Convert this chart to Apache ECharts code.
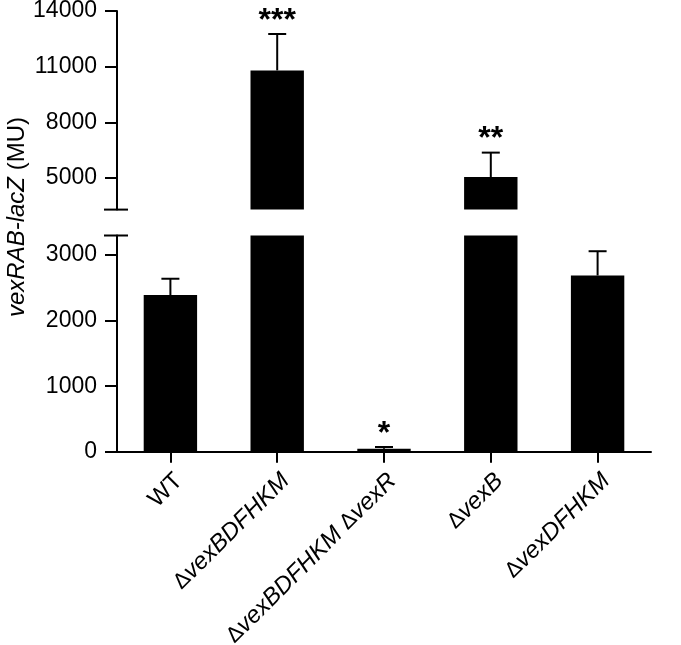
<!DOCTYPE html>
<html>
<head>
<meta charset="utf-8">
<script src="https://cdn.jsdelivr.net/npm/echarts@6/dist/echarts.min.js"></script>
<style>html,body{margin:0;padding:0;background:#fff}#c{width:681px;height:645px}</style>
</head>
<body>
<div id="c"></div>
<script>
const categories = ['WT', 'ΔvexBDFHKM', 'ΔvexBDFHKM ΔvexR', 'ΔvexB', 'ΔvexDFHKM'];
const means = [2390, 10800, 45, 5050, 2690];
const errors = [250, 1960, 27, 1320, 370];
const stars = ['', '***', '*', '**', ''];
const lowerTicks = [0, 1000, 2000, 3000];
const upperTicks = [5000, 8000, 11000, 14000];
const breakAt = 3300;
const yMax = 14000;

const FONT = 'Liberation Sans, Arial, Helvetica, sans-serif';
const chart = echarts.init(document.getElementById('c'), null, {renderer: 'canvas'});

function labelFmt(v) {
  if (v.indexOf('Δ') < 0) return '{n|' + v + '}';
  return v.split(' ').map(p => p.split('Δ').map((s, k) => k === 0 ? s : '{d|Δ}{i|' + s + '}').join('')).join('{n| }');
}

const upperData = means.map(v => v > breakAt ? v : '-');
const errData = means.map((m, i) => [i, m, m + errors[i], stars[i]]);
const errLower = errData.filter(d => d[1] <= breakAt);
const errUpper = errData.filter(d => d[1] > breakAt);

function renderErr(params, api) {
  const i = api.value(0);
  const p0 = api.coord([i, api.value(1)]);
  const p1 = api.coord([i, api.value(2)]);
  const d = (params.seriesIndex === 2 ? errLower : errUpper)[params.dataIndexInside];
  const children = [
    {type: 'line', shape: {x1: p0[0], y1: p0[1], x2: p1[0], y2: p1[1]}, style: {stroke: '#000', lineWidth: 2}},
    {type: 'line', shape: {x1: p1[0] - 9, y1: p1[1], x2: p1[0] + 9, y2: p1[1]}, style: {stroke: '#000', lineWidth: 2}}
  ];
  if (d && d[3]) {
    children.push({type: 'text', style: {text: d[3], x: p1[0], y: p1[1] - 13, align: 'center', verticalAlign: 'middle', font: 'bold 32px ' + FONT, fill: '#000'}});
  }
  return {type: 'group', children};
}

const yCommon = {
  type: 'value',
  axisLine: {show: true, lineStyle: {color: '#000', width: 2}},
  axisTick: {show: true, length: 12, lineStyle: {color: '#000', width: 2}},
  axisLabel: {color: '#000', fontSize: 23, fontFamily: FONT, margin: 20, formatter: v => String(v)},
  splitLine: {show: false}
};

const xCommon = {
  type: 'category',
  data: categories,
  boundaryGap: true,
  axisLine: {show: true, onZero: false, lineStyle: {color: '#000', width: 2}},
  axisTick: {show: true, alignWithLabel: true, length: 11, lineStyle: {color: '#000', width: 2}}
};

const nameText = {
  id: 'yname', type: 'text', rotation: Math.PI / 2, x: 17, y: 217,
  style: {
    text: '{i|vexRAB-lacZ}{n| (MU)}', align: 'center', verticalAlign: 'middle',
    rich: {
      i: {font: 'italic normal 24px ' + FONT, fill: '#000'},
      n: {font: 'normal normal 24px ' + FONT, fill: '#000'}
    }
  }
};

chart.setOption({
  animation: false,
  backgroundColor: '#fff',
  grid: [
    {left: 117, right: 30, top: 235.5, bottom: 193.3, outerBoundsMode: 'none', containLabel: false},
    {left: 117, right: 30, top: 11, height: 198.6, outerBoundsMode: 'none', containLabel: false}
  ],
  xAxis: [
    Object.assign({}, xCommon, {
      gridIndex: 0,
      axisLabel: {
        rotate: 45, margin: 34, padding: [0, -12, 0, 0], color: '#000', interval: 0,
        formatter: labelFmt,
        rich: {
          n: {fontSize: 24, fontFamily: FONT, color: '#000'},
          d: {fontSize: 22, fontFamily: FONT, color: '#000'},
          i: {fontSize: 24, fontFamily: FONT, fontStyle: 'italic', color: '#000'}
        }
      }
    }),
    Object.assign({}, xCommon, {
      gridIndex: 1,
      axisLine: {show: false}, axisTick: {show: false}, axisLabel: {show: false}
    })
  ],
  yAxis: [
    Object.assign({}, yCommon, {
      gridIndex: 0, min: 0, max: breakAt,
      axisTick: Object.assign({}, yCommon.axisTick, {customValues: lowerTicks}),
      axisLabel: Object.assign({}, yCommon.axisLabel, {customValues: lowerTicks})
    }),
    Object.assign({}, yCommon, {
      gridIndex: 1, min: breakAt, max: yMax,
      axisTick: Object.assign({}, yCommon.axisTick, {customValues: upperTicks}),
      axisLabel: Object.assign({}, yCommon.axisLabel, {customValues: upperTicks})
    })
  ],
  series: [
    {type: 'bar', xAxisIndex: 0, yAxisIndex: 0, data: means, barWidth: '50%', itemStyle: {color: '#000'}, clip: true},
    {type: 'bar', xAxisIndex: 1, yAxisIndex: 1, data: upperData, barWidth: '50%', itemStyle: {color: '#000'}, clip: true},
    {type: 'custom', xAxisIndex: 0, yAxisIndex: 0, data: errLower, renderItem: renderErr, clip: false, z: 5},
    {type: 'custom', xAxisIndex: 1, yAxisIndex: 1, data: errUpper, renderItem: renderErr, clip: false, z: 5}
  ],
  graphic: [nameText]
});

// axis-break marks at the break value on both segments
const rect0 = chart.getModel().getComponent('grid', 0).coordinateSystem.getRect();
const yLow = chart.convertToPixel({yAxisIndex: 0}, breakAt);
const yHigh = chart.convertToPixel({yAxisIndex: 1}, breakAt);
const ax = rect0.x;
chart.setOption({
  graphic: [
    nameText,
    {id: 'brk1', type: 'line', shape: {x1: ax - 13, y1: yLow, x2: ax + 11, y2: yLow}, style: {stroke: '#000', lineWidth: 2}},
    {id: 'brk2', type: 'line', shape: {x1: ax - 13, y1: yHigh, x2: ax + 11, y2: yHigh}, style: {stroke: '#000', lineWidth: 2}}
  ]
});
</script>
</body>
</html>
